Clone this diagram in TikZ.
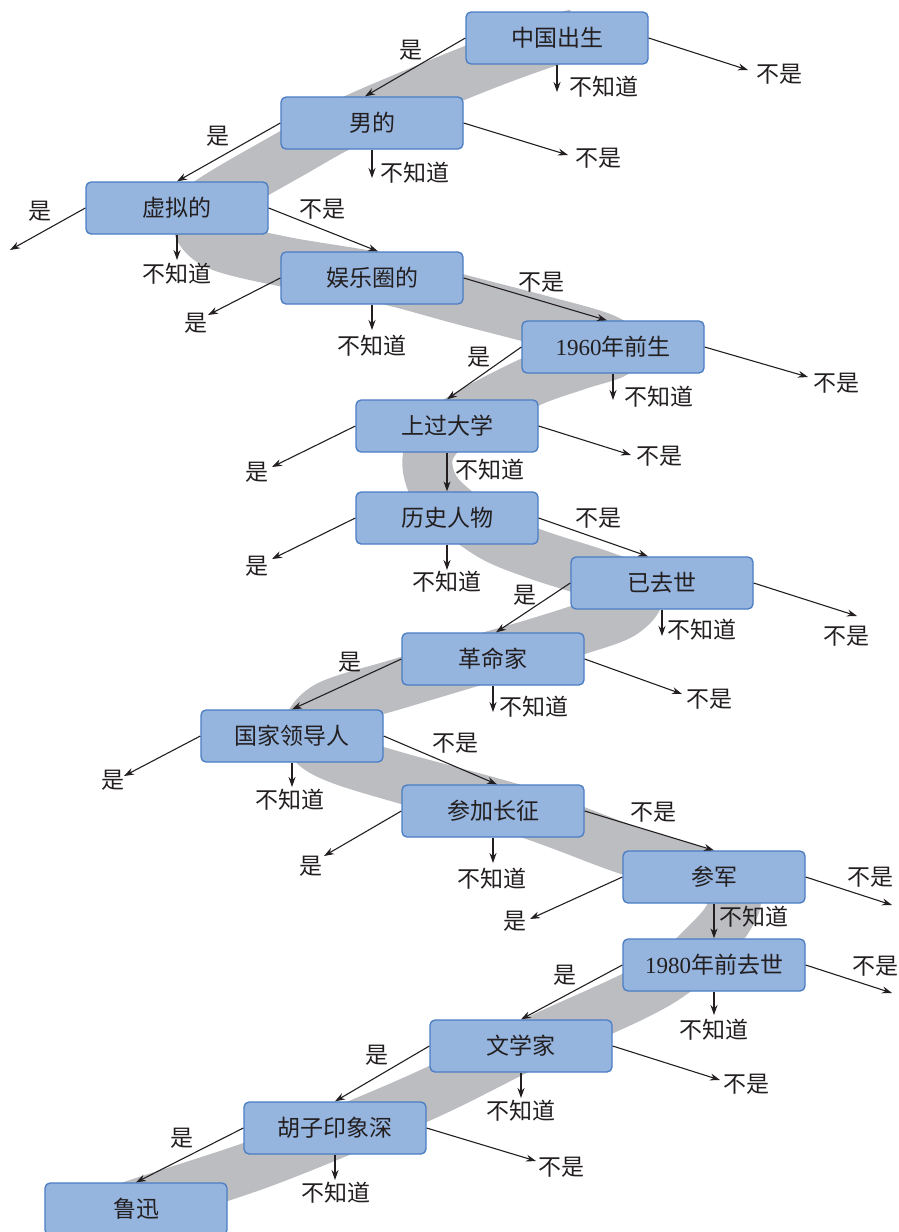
\documentclass[tikz,border=0pt]{standalone}
\usepackage{fontspec}
\setmainfont{Liberation Serif}
\newfontfamily\cjk{Noto Sans CJK SC}
\usetikzlibrary{arrows.meta,positioning}
\definecolor{boxfill}{RGB}{149,180,222}
\definecolor{boxedge}{RGB}{74,125,196}
\definecolor{ribbongray}{RGB}{188,189,192}
\definecolor{inkgray}{RGB}{35,31,32}

\begin{document}
\begin{tikzpicture}[x=1pt,y=-1pt,
    qbox/.style={draw=boxedge, fill=boxfill, line width=1.3pt, rounded corners=5pt,
        minimum width=182pt, minimum height=52pt, inner sep=0pt,
        font=\cjk\fontsize{23}{27}\selectfont, text=inkgray},
    ans/.style={inner sep=0pt, font=\cjk\fontsize{23}{27}\selectfont, text=inkgray},
    arr/.style={-{Stealth[length=10pt,width=7pt]}, line width=1.1pt, draw=inkgray}]
    \useasboundingbox (0,0) rectangle (899,1232);

    % Gray ribbon behind the questions
    \draw[ribbongray, line width=50pt, line join=round] plot[smooth, tension=0.55] coordinates {
        (576,34) (545,43) (477,68) (357,118) (294,152) (206,204) (198,226) (220,246)
        (286,262) (380,278) (463,300) (540,320) (603,338) (616,352) (578,365) (528,383)
        (458,420) (432,445) (428,470) (442,498) (490,535) (538,555) (600,575) (638,592)
        (622,614) (578,630) (530,645) (478,660) (401,683) (330,705) (308,728) (315,746)
        (342,760) (401,778) (524,812) (622,848) (700,873) (735,895) (727,920) (705,945)
        (675,972) (634,996) (531,1043) (441,1088) (361,1123) (256,1165) (134,1205) (90,1222)};

    % Questions
    \node[qbox] (n1) at (557,38) {中国出生};
    \node[qbox] (n2) at (372,123) {男的};
    \node[qbox] (n3) at (177,208) {虚拟的};
    \node[qbox] (n4) at (372,278) {娱乐圈的};
    \node[qbox] (n5) at (613,347) {\textrm{1960}年前生};
    \node[qbox] (n6) at (447,426) {上过大学};
    \node[qbox] (n7) at (447,518) {历史人物};
    \node[qbox] (n8) at (662,583) {已去世};
    \node[qbox] (n9) at (493,659) {革命家};
    \node[qbox] (n10) at (292,736) {国家领导人};
    \node[qbox] (n11) at (493,811) {参加长征};
    \node[qbox] (n12) at (714,877) {参军};
    \node[qbox] (n13) at (714,965) {\textrm{1980}年前去世};
    \node[qbox] (n14) at (521,1046) {文学家};
    \node[qbox] (n15) at (335,1128) {胡子印象深};
    \node[qbox] (n16) at (136,1209) {鲁迅};

    % Path to the answer
    \draw[arr] (n1.west) -- ([xshift=-7pt]n2.north);
    \draw[arr] (n2.west) -- (n3.north);
    \draw[arr] (n3.east) -- ([xshift=6pt]n4.north);
    \draw[arr] (n4.east) -- ([xshift=-6pt]n5.north);
    \draw[arr] (n5.west) -- (n6.north);
    \draw[arr] (n6.south) -- (n7.north);
    \draw[arr] (n7.east) -- ([xshift=-14pt]n8.north);
    \draw[arr] (n8.west) -- ([xshift=3pt]n9.north);
    \draw[arr] (n9.west) -- (n10.north);
    \draw[arr] (n10.east) -- ([xshift=4pt]n11.north);
    \draw[arr] (n11.east) -- (n12.north);
    \draw[arr] (n12.south) -- (n13.north);
    \draw[arr] (n13.west) -- (n14.north);
    \draw[arr] (n14.west) -- (n15.north);
    \draw[arr] (n15.west) -- (n16.north);

    \node[ans] (a1) at (411,50) {是};
    \node[ans] (a2) at (218,136) {是};
    \node[ans] (a3) at (322,209) {不是};
    \node[ans] (a4) at (541,282) {不是};
    \node[ans] (a5) at (479,357) {是};
    \node[ans] (a6) at (490,470) {不知道};
    \node[ans] (a7) at (598,518) {不是};
    \node[ans] (a8) at (525,595) {是};
    \node[ans] (a9) at (350,662) {是};
    \node[ans] (a10) at (455,743) {不是};
    \node[ans] (a11) at (653,812) {不是};
    \node[ans] (a12) at (754,917) {不知道};
    \node[ans] (a13) at (565,975) {是};
    \node[ans] (a14) at (377,1055) {是};
    \node[ans] (a15) at (182,1138) {是};

    % Dead ends
    \coordinate (d1) at (557,92);    \coordinate (f1) at (748,70);
    \coordinate (d2) at (372,178);   \coordinate (f2) at (568,155);
    \coordinate (y3) at (10,250);    \coordinate (d3) at (177,260);
    \coordinate (y4) at (208,315);   \coordinate (d4) at (372,330);
    \coordinate (d5) at (613,400);   \coordinate (f5) at (808,377);
    \coordinate (y6) at (272,467);   \coordinate (f6) at (631,455);
    \coordinate (y7) at (272,559);   \coordinate (d7) at (447,570);
    \coordinate (d8) at (662,636);   \coordinate (f8) at (857,616);
    \coordinate (d9) at (493,712);   \coordinate (f9) at (682,694);
    \coordinate (y10) at (124,776);  \coordinate (d10) at (292,787);
    \coordinate (y11) at (324,856);  \coordinate (d11) at (493,863);
    \coordinate (y12) at (530,919);  \coordinate (f12) at (892,905);
    \coordinate (d13) at (714,1015); \coordinate (f13) at (892,993);
    \coordinate (d14) at (521,1098); \coordinate (f14) at (720,1080);
    \coordinate (d15) at (335,1180); \coordinate (f15) at (536,1161);

    \draw[arr] (n1.south) -- (d1);  \draw[arr] (n1.east) -- (f1);
    \draw[arr] (n2.south) -- (d2);  \draw[arr] (n2.east) -- (f2);
    \draw[arr] (n3.west) -- (y3);   \draw[arr] (n3.south) -- (d3);
    \draw[arr] (n4.west) -- (y4);   \draw[arr] (n4.south) -- (d4);
    \draw[arr] (n5.south) -- (d5);  \draw[arr] (n5.east) -- (f5);
    \draw[arr] (n6.west) -- (y6);   \draw[arr] (n6.east) -- (f6);
    \draw[arr] (n7.west) -- (y7);   \draw[arr] (n7.south) -- (d7);
    \draw[arr] (n8.south) -- (d8);  \draw[arr] (n8.east) -- (f8);
    \draw[arr] (n9.south) -- (d9);  \draw[arr] (n9.east) -- (f9);
    \draw[arr] (n10.west) -- (y10); \draw[arr] (n10.south) -- (d10);
    \draw[arr] (n11.west) -- (y11); \draw[arr] (n11.south) -- (d11);
    \draw[arr] (n12.west) -- (y12); \draw[arr] (n12.east) -- (f12);
    \draw[arr] (n13.south) -- (d13); \draw[arr] (n13.east) -- (f13);
    \draw[arr] (n14.south) -- (d14); \draw[arr] (n14.east) -- (f14);
    \draw[arr] (n15.south) -- (d15); \draw[arr] (n15.east) -- (f15);

    \node[ans] (ld1) at (604,87) {不知道};   \node[ans] (lf1) at (779,74) {不是};
    \node[ans] (ld2) at (415,173) {不知道};  \node[ans] (lf2) at (598,158) {不是};
    \node[ans] (ly3) at (40,211) {是};       \node[ans] (ld3) at (177,274) {不知道};
    \node[ans] (ly4) at (196,323) {是};      \node[ans] (ld4) at (372,346) {不知道};
    \node[ans] (ld5) at (659,397) {不知道};  \node[ans] (lf5) at (836,383) {不是};
    \node[ans] (ly6) at (257,472) {是};      \node[ans] (lf6) at (659,456) {不是};
    \node[ans] (ly7) at (257,566) {是};      \node[ans] (ld7) at (447,582) {不知道};
    \node[ans] (ld8) at (702,630) {不知道};  \node[ans] (lf8) at (846,636) {不是};
    \node[ans] (ld9) at (534,707) {不知道};  \node[ans] (lf9) at (709,699) {不是};
    \node[ans] (ly10) at (113,780) {是};     \node[ans] (ld10) at (290,800) {不知道};
    \node[ans] (ly11) at (311,866) {是};     \node[ans] (ld11) at (492,879) {不知道};
    \node[ans] (ly12) at (515,921) {是};     \node[ans] (lf12) at (870,877) {不是};
    \node[ans] (ld13) at (714,1030) {不知道}; \node[ans] (lf13) at (875,966) {不是};
    \node[ans] (ld14) at (521,1111) {不知道}; \node[ans] (lf14) at (746,1084) {不是};
    \node[ans] (ld15) at (336,1193) {不知道}; \node[ans] (lf15) at (561,1167) {不是};
\end{tikzpicture}
\end{document}
